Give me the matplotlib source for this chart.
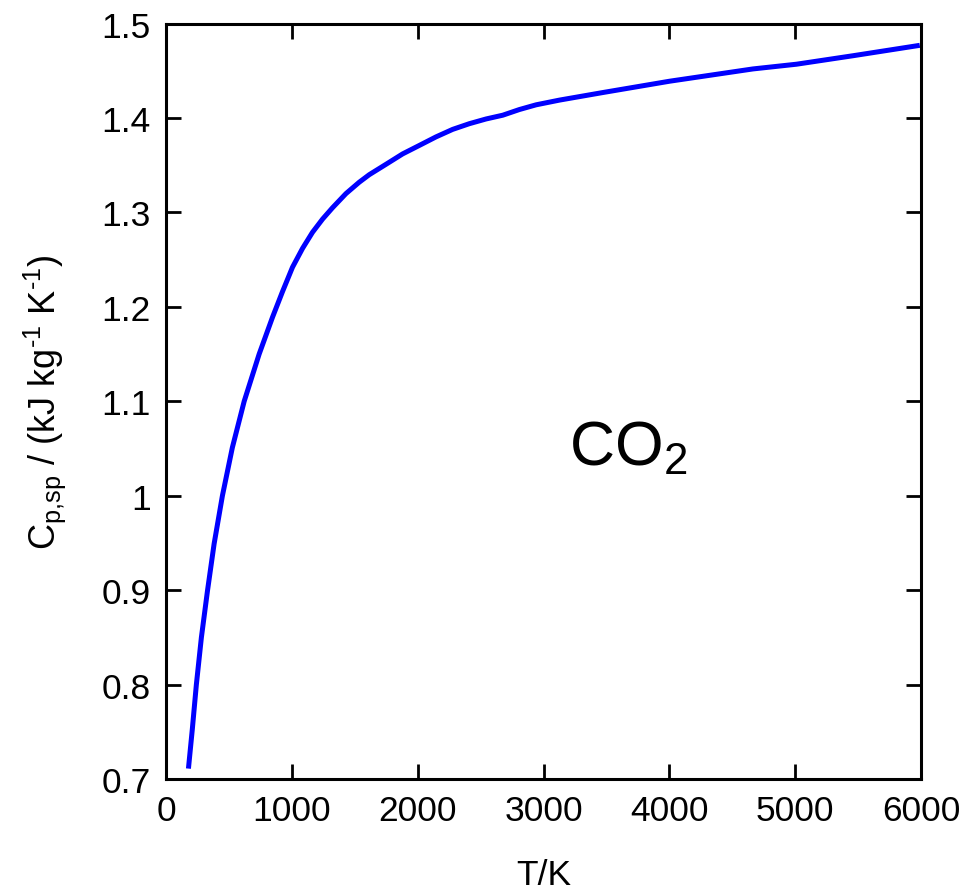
import matplotlib.pyplot as plt

plt.rcParams["font.family"] = ["Liberation Sans", "DejaVu Sans"]
plt.rcParams["mathtext.fontset"] = "custom"
plt.rcParams["mathtext.rm"] = "Liberation Sans"
plt.rcParams["mathtext.it"] = "Liberation Sans:italic"

temperature_k = [178, 209, 241, 281, 329, 382, 448, 527, 621, 740, 846, 925,
                 1005, 1085, 1164, 1244, 1323, 1430, 1535, 1615, 1748, 1880,
                 2013, 2145, 2278, 2410, 2543, 2676, 2808, 2941, 3127, 3471,
                 4002, 4664, 5010, 5460, 5990]
cp_kj_per_kg_k = [0.711, 0.753, 0.800, 0.850, 0.899, 0.949, 1.000, 1.051, 1.100, 1.150, 1.189, 1.216,
                  1.242, 1.262, 1.279, 1.293, 1.305, 1.320, 1.332, 1.340, 1.351, 1.362,
                  1.371, 1.380, 1.388, 1.394, 1.399, 1.403, 1.409, 1.414, 1.419, 1.427,
                  1.439, 1.452, 1.457, 1.466, 1.477]

x_ticks = [0, 1000, 2000, 3000, 4000, 5000, 6000]
y_ticks = [0.7, 0.8, 0.9, 1.0, 1.1, 1.2, 1.3, 1.4, 1.5]
y_tick_labels = ["0.7", "0.8", "0.9", "1", "1.1", "1.2", "1.3", "1.4", "1.5"]

fig = plt.figure(figsize=(9.79, 8.95), dpi=100)
ax = fig.add_axes([0.1696, 0.1285, 0.7712, 0.844])

ax.plot(temperature_k, cp_kj_per_kg_k, color="#0000ff", linewidth=3.6,
        solid_capstyle="butt", solid_joinstyle="round")

ax.set_xlim(0, 6000)
ax.set_ylim(0.7, 1.5)
ax.set_xticks(x_ticks)
ax.set_yticks(y_ticks)
ax.set_yticklabels(y_tick_labels)

ax.tick_params(direction="in", length=11, width=2, labelsize=25.5, pad=11,
               top=True, right=True)
for spine in ax.spines.values():
    spine.set_linewidth(2.2)

ax.set_xlabel("T/K", fontsize=25.5, labelpad=22)
ax.set_ylabel("C$_{\\mathrm{p{,}sp}}$ / (kJ kg$^{\\mathrm{\u2010}1}$ K$^{\\mathrm{\u2010}1}$)",
              fontsize=26, labelpad=24)

ax.text(3675, 1.051, r"CO$_2$", fontsize=45, ha="center", va="center")

fig.savefig("out.png", dpi=100)
plt.close(fig)
